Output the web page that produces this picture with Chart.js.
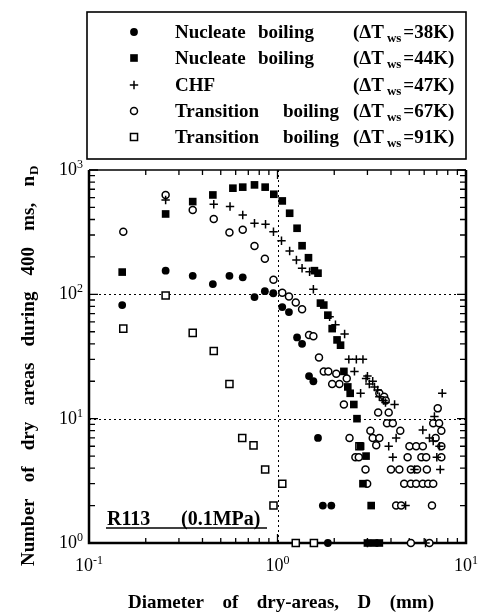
<!DOCTYPE html>
<html>
<head>
<meta charset="utf-8">
<script src="https://cdn.jsdelivr.net/npm/chart.js@4.4.0/dist/chart.umd.min.js"></script>
<style>
  html, body { margin: 0; padding: 0; background: #fff; }
  #wrap { width: 479px; height: 616px; }
</style>
</head>
<body>
<div id="wrap"><canvas id="dryAreaChartID"></canvas></div>
<script>
// values (D in mm, n_D counts)
var nb38_D = [0.15, 0.255, 0.355, 0.454, 0.556, 0.654, 0.755, 0.857, 0.95, 1.06, 1.15, 1.27, 1.35, 1.47, 1.55, 1.64, 1.74, 1.93, 1.85];
var nb38_n = [82, 155, 141, 121, 141, 137, 95, 106, 102, 79, 72, 45, 40, 22, 20, 7, 2, 2, 1];

var nb44_D = [0.15, 0.255, 0.355, 0.454, 0.58, 0.654, 0.755, 0.86, 0.956, 1.06, 1.16, 1.27, 1.35, 1.46, 1.57, 1.64, 1.69, 1.76, 1.85, 1.95, 2.07, 2.16, 2.25, 2.36, 2.43, 2.54, 2.64, 2.76, 2.95, 2.84, 3.14, 3.0, 3.27, 3.47];
var nb44_n = [151, 443, 557, 630, 714, 728, 759, 728, 638, 564, 449, 340, 246, 197, 155, 148, 85, 82, 68, 53, 43, 39, 24, 18, 16, 13, 10, 6, 5, 3, 2, 1, 1, 1];

var chf_D = [0.255, 0.459, 0.56, 0.654, 0.755, 0.864, 0.952, 1.05, 1.16, 1.26, 1.35, 1.48, 1.55, 1.89, 2.03, 2.27, 2.39, 2.62, 2.84, 2.56, 3.0, 2.95, 3.2, 3.27, 2.76, 3.4, 3.47, 3.65, 4.18, 7.48, 3.07, 3.74, 4.26, 3.89, 4.09, 5.9, 6.4, 6.7, 6.8, 7.23, 7.0, 5.33, 7.3, 4.78, 6.1, 3.0];
var chf_n = [574, 531, 508, 435, 373, 366, 319, 270, 223, 189, 162, 152, 110, 66, 57, 48, 30, 30, 30, 24, 22, 21, 20, 18, 16, 17, 15, 14, 13, 16, 19, 13.5, 7, 6, 4.9, 8.1, 7, 6.6, 10.4, 6, 4.9, 3.9, 3.9, 2, 1, 1];

var tb67_D = [0.152, 0.255, 0.355, 0.459, 0.556, 0.654, 0.755, 0.857, 0.952, 1.06, 1.15, 1.25, 1.35, 1.47, 1.55, 1.66, 1.76, 1.86, 2.05, 1.95, 2.13, 2.33, 2.25, 3.47, 3.68, 3.75, 3.42, 3.89, 3.81, 4.09, 4.48, 3.11, 3.2, 3.47, 3.34, 2.41, 2.59, 2.7, 2.93, 2.99, 5.01, 5.44, 5.9, 4.9, 5.8, 6.15, 7.4, 4.0, 4.43, 5.1, 5.5, 6.2, 4.7, 5.1, 5.44, 5.9, 6.3, 6.7, 4.26, 4.53, 6.6, 7.08, 6.7, 7.2, 7.4, 6.9, 7.4, 5.1, 6.4];
var tb67_n = [319, 630, 477, 404, 314, 330, 245, 193, 131, 103, 96, 86, 76, 47, 46, 31, 24, 24, 23, 19, 19, 21, 13, 16, 15, 14, 11.2, 11.2, 9.2, 9.2, 8, 8, 7, 7, 6.1, 7, 4.9, 4.9, 3.9, 3, 6, 6, 6, 4.9, 4.9, 4.9, 4.9, 3.9, 3.9, 3.9, 3.9, 3.9, 3, 3, 3, 3, 3, 3, 2, 2, 2, 12.1, 9.2, 9.2, 8, 7, 6, 1, 1];

var tb91_D = [0.152, 0.255, 0.355, 0.459, 0.556, 0.65, 0.746, 0.86, 0.952, 1.06, 2.72, 1.25, 1.56];
var tb91_n = [53, 98, 49, 35, 19, 7, 6.1, 3.9, 2, 3, 6, 1, 1];

var legend_names = [['Nucleate', 'boiling'], ['Nucleate', 'boiling'], ['CHF'], ['Transition', 'boiling'], ['Transition', 'boiling']];
var legend_dT = ['38K', '44K', '47K', '67K', '91K'];

var x_major = [0.1, 1, 10];
var x_exp = ['-1', '0', '1'];
var y_major = [1, 10, 100, 1000];
var y_exp = ['0', '1', '2', '3'];

var SERIF = '"Liberation Serif", "DejaVu Serif", serif';

function pairs(xs, ys) {
    var out = [];
    for (var i = 0; i < xs.length; i++) {
        out.push({x: xs[i], y: ys[i]});
    }
    return out;
}

function logTicks(lo, hi) {
    var t = [];
    for (var e = lo; e < hi; e++) {
        for (var m = 1; m <= 9; m++) {
            t.push(Number((m * Math.pow(10, e)).toPrecision(3)));
        }
    }
    t.push(Math.pow(10, hi));
    return t;
}
var x_ticks = logTicks(-1, 1);
var y_ticks = logTicks(0, 3);

function isMajor(v) {
    var l = Math.log10(v);
    return Math.abs(l - Math.round(l)) < 1e-6;
}

// marker look shared by datasets and legend box
var marks = [
    {pointStyle: 'circle', radius: 3.9, fill: '#000', borderWidth: 0},
    {pointStyle: 'rect', radius: 5.4, fill: '#000', borderWidth: 0},
    {pointStyle: 'cross', radius: 4.2, fill: '#000', borderWidth: 1.5},
    {pointStyle: 'circle', radius: 3.5, fill: '#fff', borderWidth: 1.5},
    {pointStyle: 'rect', radius: 5, fill: '#fff', borderWidth: 1.5}
];

function drawMark(ctx, m, x, y) {
    ctx.save();
    ctx.fillStyle = m.fill;
    ctx.strokeStyle = '#000';
    ctx.lineWidth = m.borderWidth;
    ctx.beginPath();
    if (m.pointStyle == 'circle') {
        ctx.arc(x, y, m.radius, 0, Math.PI * 2);
    } else if (m.pointStyle == 'rect') {
        var s = m.radius / Math.SQRT2;
        ctx.rect(x - s, y - s, 2 * s, 2 * s);
    } else {
        ctx.moveTo(x - m.radius, y); ctx.lineTo(x + m.radius, y);
        ctx.moveTo(x, y - m.radius); ctx.lineTo(x, y + m.radius);
    }
    if (m.pointStyle != 'cross') ctx.fill();
    if (m.borderWidth > 0) ctx.stroke();
    ctx.restore();
}

function drawPow(ctx, x, y, exp, align) {
    ctx.font = '18px ' + SERIF;
    var wb = ctx.measureText('10').width;
    ctx.font = '12px ' + SERIF;
    var we = ctx.measureText(exp).width;
    var start = align == 'center' ? x - (wb + we) / 2 : x - (wb + we);
    ctx.textAlign = 'left';
    ctx.textBaseline = 'alphabetic';
    ctx.font = '18px ' + SERIF;
    ctx.fillText('10', start, y);
    ctx.font = '12px ' + SERIF;
    ctx.fillText(exp, start + wb, y - 7);
}

// words spread out to fill a given width, like the typeset original
function spreadWords(ctx, words, x, y, width) {
    var total = 0;
    for (var i = 0; i < words.length; i++) total += ctx.measureText(words[i]).width;
    var gap = (width - total) / (words.length - 1);
    var cx = x;
    for (var i = 0; i < words.length; i++) {
        ctx.fillText(words[i], cx, y);
        cx += ctx.measureText(words[i]).width + gap;
    }
    return cx - gap;
}

var decorations = {
    id: 'decorations',
    beforeDatasetsDraw: function(chart) {
        var ctx = chart.ctx;
        var a = chart.chartArea;
        var xs = chart.scales.x, ys = chart.scales.y;
        ctx.save();
        ctx.strokeStyle = '#000';
        // dotted lines at inner decades
        ctx.lineWidth = 1;
        ctx.setLineDash([2, 3]);
        ctx.beginPath();
        x_major.forEach(function(v) {
            var p = Math.round(xs.getPixelForValue(v)) + 0.5;
            if (p > a.left + 2 && p < a.right - 2) { ctx.moveTo(p, a.top); ctx.lineTo(p, a.bottom); }
        });
        y_major.forEach(function(v) {
            var p = Math.round(ys.getPixelForValue(v)) + 0.5;
            if (p > a.top + 2 && p < a.bottom - 2) { ctx.moveTo(a.left, p); ctx.lineTo(a.right, p); }
        });
        ctx.stroke();
        ctx.setLineDash([]);
        // inward tick marks
        ctx.lineWidth = 1.3;
        ctx.beginPath();
        x_ticks.forEach(function(v) {
            var p = xs.getPixelForValue(v);
            var len = isMajor(v) ? 9 : 5;
            ctx.moveTo(p, a.bottom); ctx.lineTo(p, a.bottom - len);
            ctx.moveTo(p, a.top); ctx.lineTo(p, a.top + len);
        });
        y_ticks.forEach(function(v) {
            var p = ys.getPixelForValue(v);
            var len = isMajor(v) ? 9 : 6;
            ctx.moveTo(a.left, p); ctx.lineTo(a.left + len, p);
            ctx.moveTo(a.right, p); ctx.lineTo(a.right - len, p);
        });
        ctx.stroke();
        // frame
        ctx.lineWidth = 2.5;
        ctx.beginPath();
        ctx.moveTo(a.left, a.top); ctx.lineTo(a.left, a.bottom); ctx.lineTo(a.right, a.bottom); ctx.lineTo(a.right, a.top);
        ctx.stroke();
        ctx.lineWidth = 1.6;
        ctx.beginPath();
        ctx.moveTo(a.left, a.top); ctx.lineTo(a.right, a.top);
        ctx.stroke();
        ctx.restore();
    },
    afterDraw: function(chart) {
        var ctx = chart.ctx;
        var xs = chart.scales.x, ys = chart.scales.y;
        ctx.save();
        ctx.fillStyle = '#000';
        // tick labels
        for (var i = 0; i < x_major.length; i++) {
            drawPow(ctx, xs.getPixelForValue(x_major[i]), 571, x_exp[i], 'center');
        }
        for (var i = 0; i < y_major.length; i++) {
            drawPow(ctx, 83, ys.getPixelForValue(y_major[i]) + 5, y_exp[i], 'right');
        }
        // x title
        ctx.font = 'bold 19px ' + SERIF;
        ctx.textAlign = 'left';
        ctx.textBaseline = 'alphabetic';
        spreadWords(ctx, ['Diameter', 'of', 'dry-areas,', 'D', '(mm)'], 128, 608, 306);
        // y title, rotated
        ctx.save();
        ctx.translate(34, 566);
        ctx.rotate(-Math.PI / 2);
        ctx.font = 'bold 19px ' + SERIF;
        var endX = spreadWords(ctx, ['Number', 'of', 'dry', 'areas', 'during', '400', 'ms,', 'n'], 0, 0, 390);
        ctx.font = 'bold 13px ' + SERIF;
        ctx.fillText('D', endX + 1, 4);
        ctx.restore();
        // fluid label
        ctx.font = 'bold 20px ' + SERIF;
        ctx.fillText('R113', 107, 525);
        ctx.fillText('(0.1MPa)', 181, 525);
        ctx.lineWidth = 1.6;
        ctx.beginPath();
        ctx.moveTo(106, 528); ctx.lineTo(267, 528);
        ctx.stroke();
        // legend box
        ctx.lineWidth = 1.6;
        ctx.strokeRect(87, 12, 379, 147);
        var rows = [32, 58, 85, 111, 137];
        for (var i = 0; i < rows.length; i++) {
            var y = rows[i];
            drawMark(ctx, marks[i], 134, y);
            ctx.font = 'bold 19px ' + SERIF;
            ctx.textAlign = 'left';
            ctx.fillText(legend_names[i][0], 175, y + 6);
            if (legend_names[i].length > 1) {
                ctx.fillText(legend_names[i][1], legend_names[i][0] == 'Nucleate' ? 258 : 283, y + 6);
            }
            var tx = 353;
            ctx.fillText('(\u0394T', tx, y + 6);
            tx += ctx.measureText('(\u0394T').width + 3;
            ctx.font = 'bold 13px ' + SERIF;
            ctx.fillText('ws', tx, y + 10);
            tx += ctx.measureText('ws').width + 2;
            ctx.font = 'bold 19px ' + SERIF;
            ctx.fillText('=' + legend_dT[i] + ')', tx, y + 6);
        }
        ctx.restore();
    }
};

function makeDataset(label, xs, ys, m) {
    return {
        label: label,
        data: pairs(xs, ys),
        pointStyle: m.pointStyle,
        pointRadius: m.radius,
        pointHoverRadius: m.radius,
        backgroundColor: m.fill,
        borderColor: '#000',
        borderWidth: m.borderWidth,
        showLine: false,
        clip: false
    };
}

var dry_area_config = {
    type: 'scatter',
    data: {
        datasets: [
            makeDataset('Nucleate boiling (\u0394Tws=38K)', nb38_D, nb38_n, marks[0]),
            makeDataset('Nucleate boiling (\u0394Tws=44K)', nb44_D, nb44_n, marks[1]),
            makeDataset('CHF (\u0394Tws=47K)', chf_D, chf_n, marks[2]),
            makeDataset('Transition boiling (\u0394Tws=67K)', tb67_D, tb67_n, marks[3]),
            makeDataset('Transition boiling (\u0394Tws=91K)', tb91_D, tb91_n, marks[4])
        ]
    },
    options: {
        responsive: true,
        maintainAspectRatio: false,
        animation: false,
        devicePixelRatio: 1,
        layout: {
            padding: {left: 89, right: 13, top: 170, bottom: 73}
        },
        plugins: {
            legend: {display: false},
            tooltip: {enabled: false}
        },
        scales: {
            x: {
                type: 'logarithmic',
                min: 0.1,
                max: 10,
                grid: {display: false, drawTicks: false},
                border: {display: false},
                ticks: {display: false},
                afterBuildTicks: function(s) { s.ticks = x_ticks.map(function(v) { return {value: v}; }); }
            },
            y: {
                type: 'logarithmic',
                min: 1,
                max: 1000,
                grid: {display: false, drawTicks: false},
                border: {display: false},
                ticks: {display: false},
                afterBuildTicks: function(s) { s.ticks = y_ticks.map(function(v) { return {value: v}; }); }
            }
        }
    },
    plugins: [decorations]
};

var myContext = document.getElementById('dryAreaChartID');
var myChart = new Chart(myContext, dry_area_config);
</script>
</body>
</html>
